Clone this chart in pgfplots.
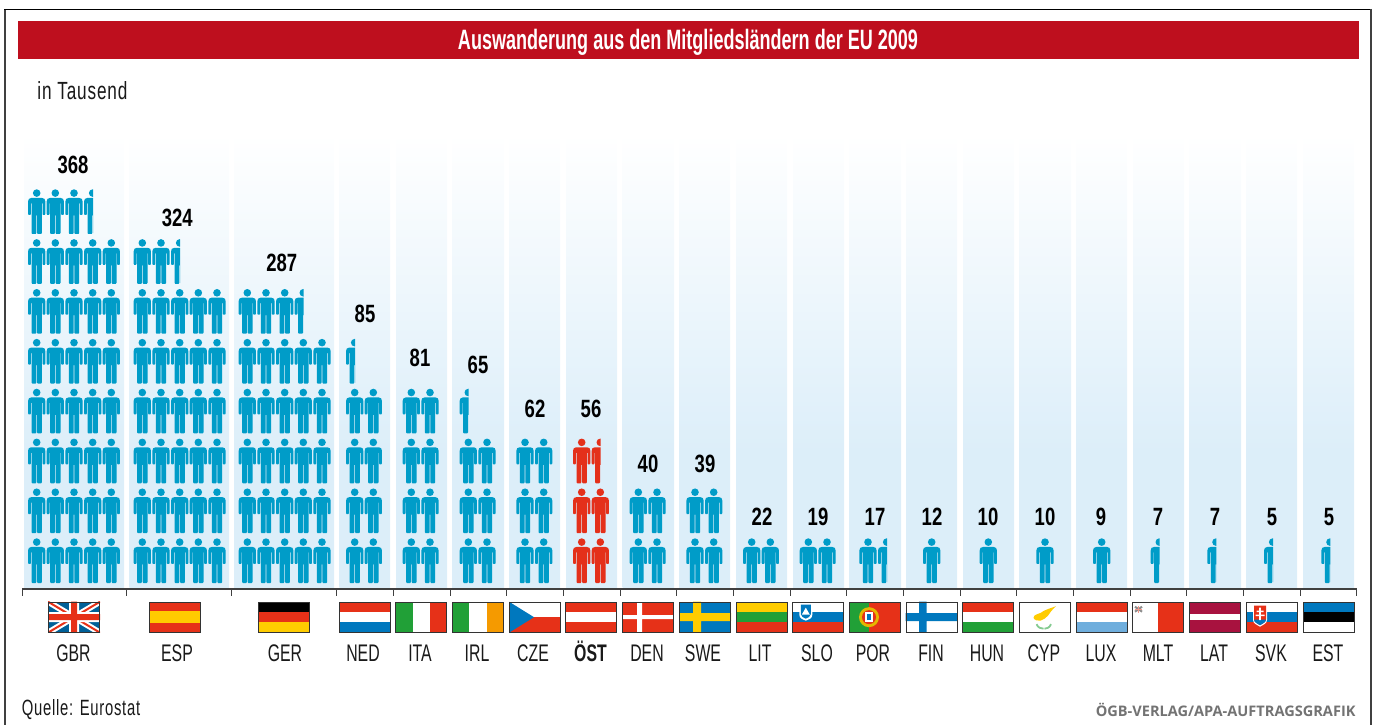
\documentclass[border=0pt]{standalone}
\usepackage{pgfplots}
\usepackage{pgfplotstable}
\usepackage{graphicx}
\usepackage{fontspec}
\pgfplotsset{compat=1.18}
\setmainfont[FakeStretch=0.66]{Liberation Sans}
\newfontfamily\vfont[FakeStretch=0.74]{Liberation Sans}
\newfontfamily\plainfont{Liberation Sans}
\newfontfamily\lsfont[LetterSpace=5]{Liberation Sans}
\newfontfamily\credfont{Open Sans}
\definecolor{pblue}{HTML}{009CC8}
\definecolor{pred}{HTML}{E4301A}
\definecolor{bgblue}{HTML}{DCEEF9}
\definecolor{titlered}{HTML}{BE0F1E}
\definecolor{axgray}{HTML}{404040}
\definecolor{fred}{HTML}{E63118}
\definecolor{fyel}{HTML}{FFCC00}
\definecolor{fgrn}{HTML}{21A037}
\definecolor{fblu}{HTML}{0078BE}
\definecolor{forg}{HTML}{F59A00}
\definecolor{flux}{HTML}{6FAEDD}
\definecolor{fmar}{HTML}{A8123F}
% the path's box fills the middle 50bp of a shading: 25bp = bottom of the column, 75bp = top
\pgfdeclareverticalshading{colbg}{100bp}{color(0bp)=(bgblue);color(40bp)=(bgblue);color(75bp)=(white);color(100bp)=(white)}
\makeatletter
\def\personpath{%
  \pgfpathcircle{\pgfpoint{0pt}{40.9pt}}{3.8pt}%
  \pgfpathmoveto{\pgfpoint{0pt}{36pt}}%
  \pgfpathlineto{\pgfpoint{-5.4pt}{36pt}}%
  \pgfpathcurveto{\pgfpoint{-7.6pt}{36pt}}{\pgfpoint{-8.6pt}{34.6pt}}{\pgfpoint{-8.6pt}{32.6pt}}%
  \pgfpathlineto{\pgfpoint{-8.6pt}{20pt}}%
  \pgfpathlineto{\pgfpoint{-8pt}{19pt}}%
  \pgfpathlineto{\pgfpoint{-6.4pt}{19pt}}%
  \pgfpathlineto{\pgfpoint{-5.8pt}{20pt}}%
  \pgfpathlineto{\pgfpoint{-5.8pt}{30.5pt}}%
  \pgfpathlineto{\pgfpoint{-5.2pt}{30.5pt}}%
  \pgfpathlineto{\pgfpoint{-5.2pt}{1pt}}%
  \pgfpathlineto{\pgfpoint{-4.4pt}{0pt}}%
  \pgfpathlineto{\pgfpoint{-1.1pt}{0pt}}%
  \pgfpathlineto{\pgfpoint{-0.4pt}{1pt}}%
  \pgfpathlineto{\pgfpoint{-0.4pt}{18.5pt}}%
  \pgfpathlineto{\pgfpoint{0.4pt}{18.5pt}}%
  \pgfpathlineto{\pgfpoint{0.4pt}{1pt}}%
  \pgfpathlineto{\pgfpoint{1.1pt}{0pt}}%
  \pgfpathlineto{\pgfpoint{4.4pt}{0pt}}%
  \pgfpathlineto{\pgfpoint{5.2pt}{1pt}}%
  \pgfpathlineto{\pgfpoint{5.2pt}{30.5pt}}%
  \pgfpathlineto{\pgfpoint{5.8pt}{30.5pt}}%
  \pgfpathlineto{\pgfpoint{5.8pt}{20pt}}%
  \pgfpathlineto{\pgfpoint{6.4pt}{19pt}}%
  \pgfpathlineto{\pgfpoint{8pt}{19pt}}%
  \pgfpathlineto{\pgfpoint{8.6pt}{20pt}}%
  \pgfpathlineto{\pgfpoint{8.6pt}{32.6pt}}%
  \pgfpathcurveto{\pgfpoint{8.6pt}{34.6pt}}{\pgfpoint{7.6pt}{36pt}}{\pgfpoint{5.4pt}{36pt}}%
  \pgfpathclose}
\pgfdeclareplotmark{person}{\personpath\pgfusepathqfill}
\pgfdeclareplotmark{halfperson}{%
  \begin{pgfscope}%
  \pgfpathrectangle{\pgfpoint{-12pt}{-1pt}}{\pgfpoint{12.3pt}{50pt}}\pgfusepath{clip}%
  \personpath\pgfusepathqfill
  \end{pgfscope}}
\makeatother
% one figure = 10 thousand; x = horizontal place of the figure, y = row
\pgfplotstableread[row sep=\\]{
x y\\
36.7 1\\ 55.3 1\\ 74 1\\ 92.7 1\\ 111.3 1\\
36.7 2\\ 55.3 2\\ 74 2\\ 92.7 2\\ 111.3 2\\
36.7 3\\ 55.3 3\\ 74 3\\ 92.7 3\\ 111.3 3\\
36.7 4\\ 55.3 4\\ 74 4\\ 92.7 4\\ 111.3 4\\
36.7 5\\ 55.3 5\\ 74 5\\ 92.7 5\\ 111.3 5\\
36.7 6\\ 55.3 6\\ 74 6\\ 92.7 6\\ 111.3 6\\
36.7 7\\ 55.3 7\\ 74 7\\ 92.7 7\\ 111.3 7\\
36.7 8\\ 55.3 8\\ 74 8\\
142.3 1\\ 161 1\\ 179.7 1\\ 198.3 1\\ 217 1\\
142.3 2\\ 161 2\\ 179.7 2\\ 198.3 2\\ 217 2\\
142.3 3\\ 161 3\\ 179.7 3\\ 198.3 3\\ 217 3\\
142.3 4\\ 161 4\\ 179.7 4\\ 198.3 4\\ 217 4\\
142.3 5\\ 161 5\\ 179.7 5\\ 198.3 5\\ 217 5\\
142.3 6\\ 161 6\\ 179.7 6\\ 198.3 6\\ 217 6\\
142.3 7\\ 161 7\\
247.3 1\\ 266 1\\ 284.7 1\\ 303.3 1\\ 322 1\\
247.3 2\\ 266 2\\ 284.7 2\\ 303.3 2\\ 322 2\\
247.3 3\\ 266 3\\ 284.7 3\\ 303.3 3\\ 322 3\\
247.3 4\\ 266 4\\ 284.7 4\\ 303.3 4\\ 322 4\\
247.3 5\\ 266 5\\ 284.7 5\\ 303.3 5\\ 322 5\\
247.3 6\\ 266 6\\ 284.7 6\\
354.7 1\\ 373.3 1\\ 354.7 2\\ 373.3 2\\ 354.7 3\\ 373.3 3\\ 354.7 4\\ 373.3 4\\
411.3 1\\ 430 1\\ 411.3 2\\ 430 2\\ 411.3 3\\ 430 3\\ 411.3 4\\ 430 4\\
468.3 1\\ 487 1\\ 468.3 2\\ 487 2\\ 468.3 3\\ 487 3\\
525 1\\ 543.7 1\\ 525 2\\ 543.7 2\\ 525 3\\ 543.7 3\\
638.3 1\\ 657 1\\ 638.3 2\\ 657 2\\
695 1\\ 713.7 1\\ 695 2\\ 713.7 2\\
751.7 1\\ 770.3 1\\
808.3 1\\ 827 1\\
868 1\\
931.7 1\\ 988.3 1\\ 1045 1\\ 1101.7 1\\
}\fullblue
\pgfplotstableread[row sep=\\]{
x y\\
92.7 8\\ 179.7 7\\ 303.3 6\\ 354.7 5\\ 468.3 4\\ 886.7 1\\ 1159.3 1\\ 1216 1\\ 1272.7 1\\ 1330 1\\
}\halfblue
\pgfplotstableread[row sep=\\]{
x y\\
581.7 1\\ 600.3 1\\ 581.7 2\\ 600.3 2\\ 581.7 3\\
}\fullred
\pgfplotstableread[row sep=\\]{
x y\\
600.3 3\\
}\halfred
% value labels, in thousand
\pgfplotstableread[row sep=\\]{
x y v\\
73 9.38 368\\ 177.3 8.32 324\\ 281.7 7.42 287\\ 365 6.395 85\\ 420 5.51 81\\ 478 5.37 65\\
535 4.49 62\\ 591 4.49 56\\ 648 3.387 40\\ 705 3.387 39\\ 762 2.32 22\\ 818 2.32 19\\
875 2.32 17\\ 932 2.32 12\\ 988 2.32 10\\ 1045 2.32 10\\ 1101 2.32 9\\ 1158 2.32 7\\
1215 2.32 7\\ 1272 2.32 5\\ 1329 2.32 5\\
}\values
\newcommand{\colbg}[2]{\addplot[draw=none,shade,shading=colbg,forget plot] coordinates {(#1,0.9)(#2,0.9)(#2,10)(#1,10)} --cycle;}
\newcommand{\flag}[2]{\begin{scope}[shift={(#1,92.3)}]
  \begin{scope}\clip (0,0) rectangle (52,31); #2 \end{scope}
  \draw[draw=black!80,line width=1pt] (0.5,0.5) rectangle (51.5,30.5);\end{scope}}
\newcommand{\hflag}[4]{\flag{#1}{\fill[#2] (0,20.7) rectangle (52,31);\fill[#3] (0,10.3) rectangle (52,20.7);\fill[#4] (0,0) rectangle (52,10.3);}}
\newcommand{\vflag}[4]{\flag{#1}{\fill[#2] (0,0) rectangle (17.3,31);\fill[#3] (17.3,0) rectangle (34.7,31);\fill[#4] (34.7,0) rectangle (52,31);}}
\begin{document}
\begin{tikzpicture}[x=1pt,y=1pt]
\path[use as bounding box] (0,0) rectangle (1376,725);
% frame and header
\draw[axgray,line width=1.3pt] (5,0) -- (5,715.5);
\draw[black,line width=1.3pt] (4.4,715.5) -- (1371,715.5);
\draw[axgray,line width=1.8pt] (1371,716) -- (1371,0);
\fill[titlered] (18,666) rectangle (1358.7,704);
\node[anchor=base,inner sep=0pt,text=white] at (688,675.7) {\resizebox{460pt}{20.3pt}{\plainfont\bfseries Auswanderung aus den Mitgliedsländern der EU 2009}};
\node[anchor=base west,inner sep=0pt,text=black!90] at (37.3,625.7) {\resizebox{90pt}{18pt}{\lsfont in Tausend}};
\node[anchor=base west,inner sep=0pt,text=black!90] at (21.7,9) {\resizebox{118.3pt}{16pt}{\lsfont Quelle: Eurostat}};
\node[anchor=base east,inner sep=0pt,text=black!55] at (1355.7,8.3) {\resizebox{259.7pt}{!}{\fontsize{15}{15}\credfont\bfseries ÖGB-VERLAG/APA-AUFTRAGSGRAFIK}};
\begin{axis}[
  at={(22.3pt,136pt)},anchor=south west,x=1pt,y=49.86pt,
  xmin=22.3,xmax=1356.5,ymin=0.8797,ymax=10,clip=false,
  axis x line=bottom,axis y line=none,
  axis line style={-,axgray,line width=1.3pt},
  tick align=outside,major tick length=7pt,
  tick style={axgray,line width=1pt},
  xtick={22.3,126.7,231.7,336.7,393.3,450,506.7,563.3,620,676.6,733.3,790,846.7,903.3,960,1016.7,1073.3,1130,1186.7,1243.3,1300,1356.5},
  xticklabels={},
  extra x ticks={73.5,177,285,363,420,477,533,590.5,647,703,760,817,873,931,987,1044,1101,1158,1214,1271,1328},
  extra x tick labels={GBR,ESP,GER,NED,ITA,IRL,CZE,\textbf{ÖST},DEN,SWE,LIT,SLO,POR,FIN,HUN,CYP,LUX,MLT,LAT,SVK,EST},
  extra x tick style={major tick length=0pt,tick style={draw=none},
    tick label style={anchor=base,inner sep=0pt,yshift=-72.7pt,font=\fontsize{24}{24}\selectfont,text=black!90}},
]
\colbg{24}{124}\colbg{129.3}{229}\colbg{234}{334}\colbg{339.3}{390}\colbg{396}{447}
\colbg{452}{504}\colbg{509}{560}\colbg{566}{617}\colbg{622.7}{674}\colbg{679}{730}
\colbg{736}{787}\colbg{793}{844}\colbg{849}{901}\colbg{906}{957}\colbg{963}{1014}
\colbg{1019}{1071}\colbg{1076}{1127}\colbg{1133}{1184}\colbg{1189}{1241}\colbg{1246}{1297}\colbg{1303}{1354}
\addplot[only marks,mark=person,mark options={draw=none,fill=pblue}] table[x=x,y=y] {\fullblue};
\addplot[only marks,mark=halfperson,mark options={draw=none,fill=pblue}] table[x=x,y=y] {\halfblue};
\addplot[only marks,mark=person,mark options={draw=none,fill=pred}] table[x=x,y=y] {\fullred};
\addplot[only marks,mark=halfperson,mark options={draw=none,fill=pred}] table[x=x,y=y] {\halfred};
\addplot[draw=none,mark=none,nodes near coords,point meta=explicit symbolic,
  nodes near coords style={anchor=center,inner sep=0pt,text=black,font=\vfont\fontsize{25}{25}\selectfont\bfseries}]
  table[x=x,y=y,meta=v] {\values};
\end{axis}
% flags
\flag{48}{\fill[fblu!80!black] (0,0) rectangle (52,31);
  \draw[white,line width=6pt] (0,0)--(52,31) (0,31)--(52,0);
  \draw[fred,line width=2pt] (0,0)--(52,31) (0,31)--(52,0);
  \fill[white] (21,0) rectangle (31,31) (0,10.5) rectangle (52,20.5);
  \fill[fred] (23,0) rectangle (29,31) (0,12.5) rectangle (52,18.5);}
\flag{149}{\fill[fred] (0,0) rectangle (52,31);\fill[fyel] (0,10) rectangle (52,22);}
\hflag{258}{black}{fred}{fyel}
\hflag{338.7}{fred}{white}{fblu}
\vflag{395.3}{fgrn}{white}{fred}
\vflag{452}{fgrn}{white}{forg}
\flag{509}{\fill[white] (0,15.5) rectangle (52,31);\fill[fred] (0,0) rectangle (52,15.5);\fill[fblu] (0,0) -- (25,15.5) -- (0,31) -- cycle;}
\hflag{565.3}{fred}{white}{fred}
\flag{622}{\fill[fred] (0,0) rectangle (52,31);\fill[white] (15,0) rectangle (20,31) (0,13.5) rectangle (52,17.5);}
\flag{679}{\fill[fblu] (0,0) rectangle (52,31);\fill[fyel] (14,0) rectangle (22,31) (0,11.5) rectangle (52,19.5);}
\hflag{736}{fyel}{fgrn}{fred}
\flag{792.3}{\fill[white] (0,20.7) rectangle (52,31);\fill[fblu] (0,10.3) rectangle (52,20.7);\fill[fred] (0,0) rectangle (52,10.3);
  \fill[white] (7,29.5) -- (20,29.5) -- (20,18) .. controls (20,14) and (16,13) .. (13.5,12) .. controls (11,13) and (7,14) .. (7,18) -- cycle;
  \fill[fblu] (8.5,28) -- (18.5,28) -- (18.5,18.5) .. controls (18.5,16) and (15.5,15) .. (13.5,14) .. controls (11.5,15) and (8.5,16) .. (8.5,18.5) -- cycle;
  \fill[white] (9.5,18) -- (13.5,25) -- (17.5,18) -- cycle;}
\flag{849}{\fill[fgrn] (0,0) rectangle (20,31);\fill[fred] (20,0) rectangle (52,31);
  \fill[fyel!90!black] (20,15.5) circle (10);\fill[fred] (20,15.5) circle (7);\fill[white] (16,10.5) rectangle (24,20.5);\fill[fblu] (18,12.5) rectangle (22,18.5);}
\flag{905.7}{\fill[white] (0,0) rectangle (52,31);\fill[fblu] (13.5,0) rectangle (21,31) (0,11.5) rectangle (52,19.5);}
\hflag{962}{fred}{white}{fgrn}
\flag{1019}{\fill[white] (0,0) rectangle (52,31);
  \fill[fyel] (14.5,15) .. controls (14.5,18) and (19,18.5) .. (22,20) .. controls (25,22.5) and (30,24) .. (37,26.5) .. controls (33,23) and (31,20) .. (29,17) .. controls (27,14) and (24,13.5) .. (21.5,12) .. controls (19,11.5) and (15,12.5) .. (14.5,15) -- cycle;
  \draw[fgrn!55,line width=1.8pt] (17.5,8.5) .. controls (19,5) and (22,4) .. (24.5,4) (32,8.5) .. controls (30.5,5) and (28,4) .. (25.5,4);}
\hflag{1076}{fred}{white}{flux}
\flag{1132}{\fill[white] (0,0) rectangle (26,31);\fill[fred] (26,0) rectangle (52,31);
  \draw[black!45,line width=2pt] (3,26) -- (10,21) (3,21) -- (10,26);
  \draw[fred!50,line width=1.2pt] (6.5,20) -- (6.5,27) (2.8,23.5) -- (10,23.5);}
\flag{1189}{\fill[fmar] (0,0) rectangle (52,31);\fill[white] (0,12.4) rectangle (52,18.6);}
\flag{1246}{\fill[white] (0,20.7) rectangle (52,31);\fill[fblu] (0,10.3) rectangle (52,20.7);\fill[fred] (0,0) rectangle (52,10.3);
  \fill[white] (7,28) -- (21,28) -- (21,13) .. controls (21,9) and (17,8) .. (14,6) .. controls (11,8) and (7,9) .. (7,13) -- cycle;
  \fill[fred] (8,27) -- (20,27) -- (20,13.5) .. controls (20,10.5) and (16.5,9) .. (14,7.5) .. controls (11.5,9) and (8,10.5) .. (8,13.5) -- cycle;
  \fill[fblu] (8,13) -- (20,13) .. controls (20,10.5) and (16.5,9) .. (14,7.5) .. controls (11.5,9) and (8,10.5) .. (8,13) -- cycle;
  \fill[white] (13.2,12.5) rectangle (14.8,25) (10.5,20.5) rectangle (17.5,22) (9.5,16.5) rectangle (18.5,18);}
\hflag{1303}{fblu}{black}{white}
\end{tikzpicture}
\end{document}
